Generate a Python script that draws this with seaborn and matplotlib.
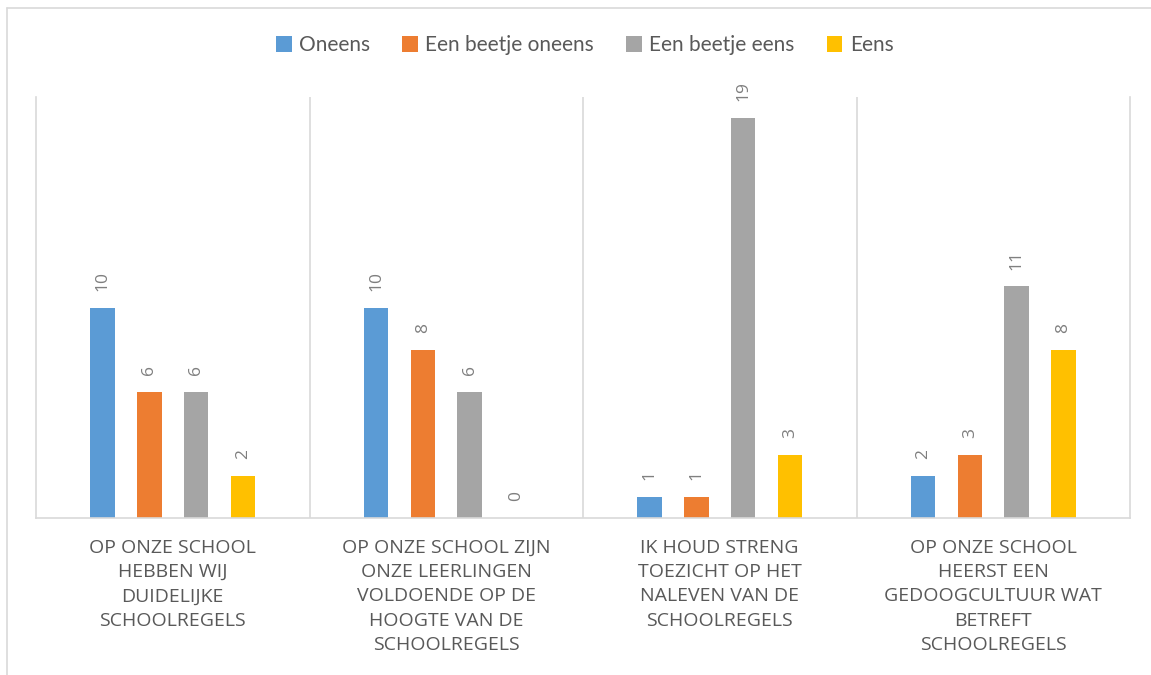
import matplotlib
matplotlib.use("Agg")
import matplotlib.pyplot as plt
from matplotlib.lines import Line2D
from matplotlib.patches import Patch
import seaborn as sns
import pandas as pd

categories = [
    "OP ONZE SCHOOL\nHEBBEN WIJ\nDUIDELIJKE\nSCHOOLREGELS",
    "OP ONZE SCHOOL ZIJN\nONZE LEERLINGEN\nVOLDOENDE OP DE\nHOOGTE VAN DE\nSCHOOLREGELS",
    "IK HOUD STRENG\nTOEZICHT OP HET\nNALEVEN VAN DE\nSCHOOLREGELS",
    "OP ONZE SCHOOL\nHEERST EEN\nGEDOOGCULTUUR WAT\nBETREFT\nSCHOOLREGELS",
]
series_names = ["Oneens", "Een beetje oneens", "Een beetje eens", "Eens"]
oneens = [10, 10, 1, 2]
beetje_oneens = [6, 8, 1, 3]
beetje_eens = [6, 6, 19, 11]
eens = [2, 0, 3, 8]
colors = ["#5B9BD5", "#ED7D31", "#A5A5A5", "#FFC000"]

rows = []
for name, vals in zip(series_names, [oneens, beetje_oneens, beetje_eens, eens]):
    for c, v in zip(categories, vals):
        rows.append({"cat": c, "val": v, "resp": name})
df = pd.DataFrame(rows)

sns.set_theme(style="white")
plt.rcParams["font.family"] = ["Open Sans", "DejaVu Sans"]

fig = plt.figure(figsize=(11.51, 6.75), dpi=100)
ax = fig.add_axes([36 / 1151, 1 - 518 / 675, (1130 - 36) / 1151, (518 - 97) / 675])

sns.barplot(data=df, x="cat", y="val", hue="resp", hue_order=series_names,
            order=categories, palette=colors, saturation=1, width=0.683, gap=0.476,
            errorbar=None, linewidth=0, ax=ax, legend=False)

for cont in ax.containers:
    ax.bar_label(cont, labels=[f"{int(v)}" for v in cont.datavalues],
                 rotation=90, padding=12, fontsize=12.5, color="#7F7F7F")

ax.set_xlim(-0.5, 3.5)
ax.set_ylim(0, 20)
ax.set_xlabel("")
ax.set_ylabel("")
ax.set_yticks([])
ax.tick_params(axis="x", length=0, pad=15)
ax.set_xticks(range(len(categories)))
ax.set_xticklabels(categories, fontsize=14, color="#595959", linespacing=1.45,
                   va="top")
for sp in ["left", "right", "bottom"]:
    ax.spines[sp].set_color("#D9D9D9")
    ax.spines[sp].set_linewidth(1.2)
ax.spines["top"].set_visible(False)
for xv in [0.5, 1.5, 2.5]:
    ax.axvline(xv, color="#D9D9D9", linewidth=1.2, zorder=0)

handles = [Patch(facecolor=c, edgecolor="none") for c in colors]
fig.legend(handles, series_names, loc="center", bbox_to_anchor=(0.508, 0.933),
           ncol=4, frameon=False, prop={"family": ["Lato", "DejaVu Sans"], "size": 15},
           handlelength=0.75, handleheight=0.75, handletextpad=0.35, columnspacing=1.55,
           labelcolor="#595959")

# outer chart border
fig.add_artist(Line2D([7 / 1151, 1.0], [1 - 8 / 675, 1 - 8 / 675],
                      transform=fig.transFigure, color="#D9D9D9", linewidth=1.2))
fig.add_artist(Line2D([7 / 1151, 7 / 1151], [0.0, 1 - 8 / 675],
                      transform=fig.transFigure, color="#D9D9D9", linewidth=1.2))

fig.savefig("out.png", dpi=100, facecolor="white")
